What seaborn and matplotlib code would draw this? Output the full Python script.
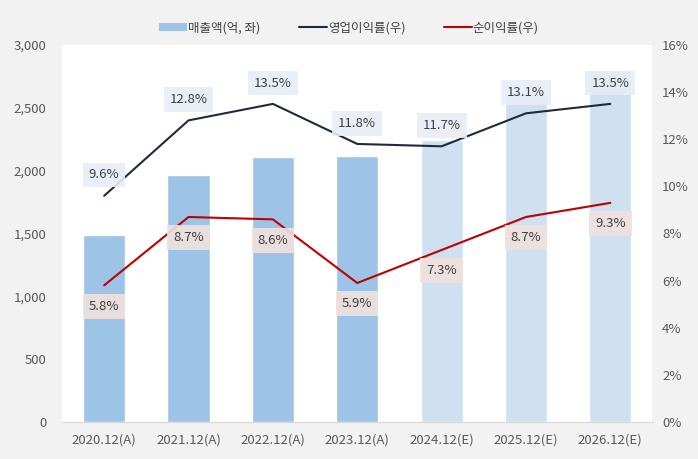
import matplotlib
matplotlib.use("Agg")
import matplotlib.pyplot as plt
import seaborn as sns
import pandas as pd
from matplotlib.patches import Patch
from matplotlib.lines import Line2D

# data
periods = ["2020.12(A)", "2021.12(A)", "2022.12(A)", "2023.12(A)",
           "2024.12(E)", "2025.12(E)", "2026.12(E)"]
sales = [1490, 1965, 2108, 2115, 2245, 2610, 2800]
op_margin = [9.6, 12.8, 13.5, 11.8, 11.7, 13.1, 13.5]
net_margin = [5.8, 8.7, 8.6, 5.9, 7.3, 8.7, 9.3]
bar_colors = ["#9dc3e6"] * 4 + ["#cfe0f1"] * 3

sns.set_style("white")
plt.rcParams['font.family'] = ['Noto Sans CJK KR', 'DejaVu Sans']

df = pd.DataFrame({"period": periods, "sales": sales,
                   "op": op_margin, "net": net_margin})

fig = plt.figure(figsize=(6.98, 4.59), dpi=100, facecolor="#f2f2f2")
ax = fig.add_axes([0.0888, 0.0806, 0.846, 0.8214])
ax.set_facecolor("white")

sns.barplot(data=df, x="period", y="sales", hue="period", palette=bar_colors,
            legend=False, width=0.5, ax=ax, saturation=1)
ax.set_ylim(0, 3000)
ax.set_yticks(range(0, 3001, 500))
ax.set_yticklabels([f"{v:,}" for v in range(0, 3001, 500)])
ax.set_xlabel("")
ax.set_ylabel("")

ax2 = ax.twinx()
op_color = "#1f2a3a"
net_color = "#c00000"
sns.lineplot(data=df, x="period", y="op", color=op_color, lw=1.5, ax=ax2, sort=False)
sns.lineplot(data=df, x="period", y="net", color=net_color, lw=1.5, ax=ax2, sort=False)
ax2.set_ylim(0, 16)
ax2.set_yticks(range(0, 17, 2))
ax2.set_yticklabels([f"{v}%" for v in range(0, 17, 2)])
ax2.set_ylabel("")
ax2.set_xlabel("")
ax.set_xlim(-0.5, 6.5)
ax2.set_xlim(-0.5, 6.5)

for i, (o, n) in enumerate(zip(op_margin, net_margin)):
    ax2.annotate(f"{o}%", (i, o), xytext=(0, 15), textcoords="offset points",
                 ha="center", va="center", fontsize=9.5, color="#404040",
                 bbox=dict(boxstyle="square,pad=0.45", fc="#e8edf7", ec="none", alpha=0.9))
    ax2.annotate(f"{n}%", (i, n), xytext=(0, -15), textcoords="offset points",
                 ha="center", va="center", fontsize=9.5, color="#404040",
                 bbox=dict(boxstyle="square,pad=0.45", fc="#f0e2dc", ec="none", alpha=0.9))

for a in (ax, ax2):
    for s in ["top", "left", "right"]:
        a.spines[s].set_visible(False)
    a.spines["bottom"].set_color("#d9d9d9")
    a.tick_params(axis="both", length=0, colors="#595959", labelsize=9.5)
ax.tick_params(axis="x", pad=8)
ax.tick_params(axis="y", pad=11)
ax2.tick_params(axis="y", pad=7)

handles = [Patch(fc="#9dc3e6", ec="none"),
           Line2D([], [], color=op_color, lw=1.5),
           Line2D([], [], color=net_color, lw=1.5)]
fig.legend(handles, ["매출액(억, 좌)", "영업이익률(우)", "순이익률(우)"],
           loc="center", bbox_to_anchor=(0.5, 0.94), ncol=3, frameon=False,
           fontsize=9, labelcolor="#404040", handlelength=2.2, handletextpad=0.1,
           columnspacing=3.1, handleheight=0.6)

fig.savefig("out.png", dpi=100, facecolor=fig.get_facecolor())
